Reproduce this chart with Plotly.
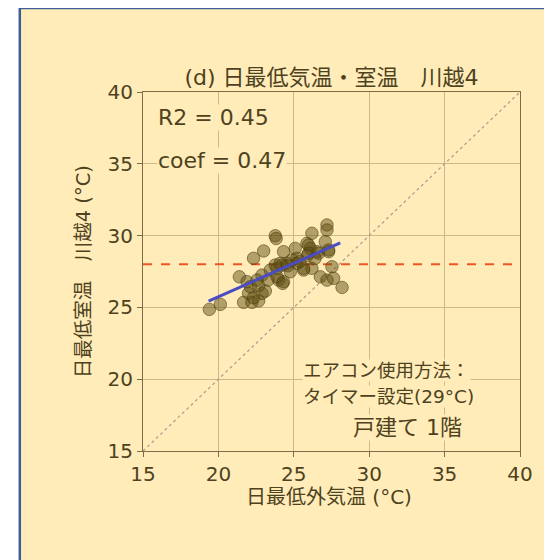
import plotly.graph_objects as go

# ---- data ----
outdoor_min = [19.40, 20.13, 21.39, 21.90, 22.33, 23.00, 23.77, 23.83, 21.67, 22.22,
               22.67, 22.00, 22.33, 22.89, 22.12, 22.67, 23.11, 22.89, 23.44, 23.89,
               24.00, 24.26, 24.22, 23.29, 22.56, 24.32, 24.55, 24.77, 25.10, 25.21,
               25.65, 25.87, 26.20, 26.10, 26.20, 26.76, 26.54, 27.09, 27.20, 27.20,
               27.31, 27.53, 27.20, 27.64, 28.20, 24.32, 23.77, 24.10, 25.98, 25.98,
               26.65, 27.31, 24.88, 25.65, 25.21, 23.89, 24.60, 25.40, 25.90, 26.40]
indoor_min = [24.86, 25.21, 27.13, 26.79, 28.42, 28.93, 29.99, 29.80, 25.35, 25.35,
              25.45, 25.98, 25.67, 25.98, 26.44, 26.51, 26.14, 27.25, 27.60, 27.72,
              26.90, 26.67, 27.95, 26.90, 26.90, 28.88, 28.07, 27.48, 29.11, 28.42,
              27.60, 29.46, 30.16, 29.11, 27.72, 27.13, 28.88, 29.57, 30.74, 30.39,
              28.88, 27.83, 26.90, 27.02, 26.39, 26.79, 27.95, 28.07, 29.34, 28.77,
              28.77, 29.00, 28.30, 27.72, 28.07, 27.13, 27.90, 28.20, 28.60, 28.40]

fit_x = [19.35, 28.08]
fit_y = [25.44, 29.50]
setpoint_x = [15, 40]
setpoint_y = [28, 28]
diag = [15, 40]

tick_vals = [15, 20, 25, 30, 35, 40]
tick_text = ["15", "20", "25", "30", "35", "40"]

title_text = "(d) 日最低気温・室温　川越4"
x_title = "日最低外気温 (°C)"
y_title = "日最低室温　川越4 (°C)"
r2_text = "R2 = 0.45"
coef_text = "coef = 0.47"
note1 = "エアコン使用方法："
note2 = "タイマー設定(29°C)"
note3 = "戸建て 1階"

# ---- style ----
BG = "#FFECB8"
TXT = "#4E421E"
GRID = "#CDB88A"
AXIS = "#7D6C44"
FONT = "DejaVu Sans, Noto Sans CJK JP"

W, H = 544, 552          # page body adds an 8px margin
ML, MR, MT, MB = 135, 32, 84, 109

fig = go.Figure()

fig.add_trace(go.Scatter(x=diag, y=diag, mode="lines",
                         line=dict(color="#ABA391", width=1.3, dash="dot"),
                         hoverinfo="skip", showlegend=False))
fig.add_trace(go.Scatter(x=setpoint_x, y=setpoint_y, mode="lines",
                         line=dict(color="#EE5522", width=2, dash="dash"),
                         hoverinfo="skip", showlegend=False))
fig.add_trace(go.Scatter(x=outdoor_min, y=indoor_min, mode="markers",
                         marker=dict(size=12.5, color="rgba(95,78,18,0.48)",
                                     line=dict(color="rgba(70,58,10,0.55)", width=1)),
                         showlegend=False))
fig.add_trace(go.Scatter(x=fit_x, y=fit_y, mode="lines",
                         line=dict(color="#4A4CC4", width=3),
                         hoverinfo="skip", showlegend=False))

# pixel (screen) -> paper coordinate helpers
L, R, T, B = 142.7, 519.7, 92.3, 450.7
def px(x):
    return (x - L) / (R - L)
def py(y):
    return (B - y) / (B - T)

# panel background with blue frame (extends beyond the image on the right/bottom)
fig.add_shape(type="rect", xref="paper", yref="paper",
              x0=px(19.5), x1=px(600), y0=py(620), y1=py(8.5),
              fillcolor=BG, line=dict(color="#3D5C9C", width=2.5), layer="below")

def note(text, x, y, size, xanchor="left", bg=BG, angle=0):
    fig.add_annotation(text=text, x=px(x), y=py(y), xref="paper", yref="paper",
                       xanchor=xanchor, yanchor="middle", showarrow=False,
                       bgcolor=bg, borderpad=0, textangle=angle,
                       font=dict(family=FONT, color=TXT, size=size))

note(r2_text, 157, 117.5, 22)
note(coef_text, 157, 160.5, 22)
note(note1, 302, 370, 18.5)
note(note2, 302, 396.5, 18.5)
note(note3, 352, 427, 22)
# axis titles
note(x_title, 328.5, 497, 20, xanchor="center", bg="rgba(0,0,0,0)")
note(y_title, 83, 272, 19.5, xanchor="center", bg="rgba(0,0,0,0)", angle=-90)

axis_common = dict(range=[15, 40], tickvals=tick_vals, ticktext=tick_text,
                   showgrid=True, gridcolor=GRID, gridwidth=1,
                   showline=True, linecolor=AXIS, linewidth=1.2, mirror=True,
                   ticks="outside", ticklen=5, tickcolor=AXIS,
                   zeroline=False,
                   tickfont=dict(family=FONT, size=20, color=TXT))

fig.update_layout(
    width=W, height=H,
    margin=dict(l=ML, r=MR, t=MT, b=MB),
    paper_bgcolor="white", plot_bgcolor=BG,
    font=dict(family=FONT, color=TXT),
    title=dict(text=title_text, x=0.5, xref="paper", xanchor="center",
               y=1 - (77 - 8) / H, yref="container", yanchor="middle",
               font=dict(family=FONT, size=22, color=TXT)),
    xaxis=dict(**axis_common),
    yaxis=dict(**axis_common),
    showlegend=False,
)

fig.write_html("out.html")
